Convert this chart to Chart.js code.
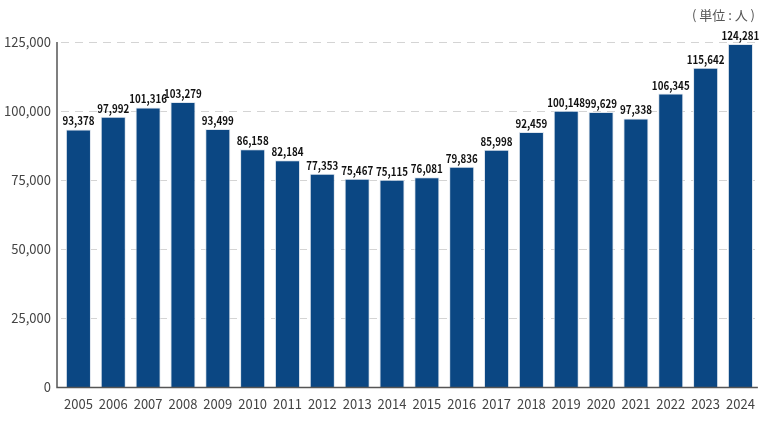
<!DOCTYPE html>
<html>
<head>
<meta charset="utf-8">
<script src="https://cdn.jsdelivr.net/npm/chart.js@4.4.1/dist/chart.umd.min.js"></script>
<style>
  html, body { margin: 0; padding: 0; background: #fff; }
  #wrap { position: relative; width: 764px; height: 429px; }
  #unit { position: absolute; right: 9px; top: 5px; font: 13px "Noto Sans CJK JP"; color: #555; white-space: pre; }
</style>
</head>
<body>
<div id="wrap">
  <canvas id="c" width="764" height="429"></canvas>
  <div id="unit">( 単位 : 人 )</div>
</div>
<script>
// ===== data =====
const years = ["2005","2006","2007","2008","2009","2010","2011","2012","2013","2014",
               "2015","2016","2017","2018","2019","2020","2021","2022","2023","2024"];
const people = [93378, 97992, 101316, 103279, 93499, 86158, 82184, 77353, 75467, 75115,
                76081, 79836, 85998, 92459, 100148, 99629, 97338, 106345, 115642, 124281];
const yTicks = [0, 25000, 50000, 75000, 100000, 125000];

const fmt = (v) => v.toLocaleString("en-US");

// axis lines + value labels above bars
const barLabels = {
  id: "barLabels",
  afterDatasetsDraw(chart) {
    const ctx = chart.ctx;
    const a = chart.chartArea;
    ctx.save();
    ctx.strokeStyle = "#555";
    ctx.lineWidth = 1.5;
    ctx.beginPath();
    ctx.moveTo(57, a.top);
    ctx.lineTo(57, a.bottom);
    ctx.lineTo(a.right, a.bottom);
    ctx.stroke();

    const meta = chart.getDatasetMeta(0);
    ctx.font = "bold 11.5px 'Noto Sans CJK JP'";
    ctx.fillStyle = "#111";
    ctx.textAlign = "center";
    ctx.textBaseline = "alphabetic";
    meta.data.forEach((bar, i) => {
      ctx.save();
      ctx.translate(bar.x, bar.y - 4);
      ctx.scale(0.85, 1);
      ctx.fillText(fmt(people[i]), 0, 0);
      ctx.restore();
    });
    ctx.restore();
  }
};

new Chart(document.getElementById("c"), {
  type: "bar",
  data: {
    labels: years,
    datasets: [{
      data: people,
      backgroundColor: "#0b4783",
      borderColor: "#dfe6ee",
      borderWidth: { top: 1, left: 1, right: 1, bottom: 0 },
      categoryPercentage: 1.0,
      barPercentage: 0.72,
    }],
  },
  options: {
    responsive: false,
    animation: false,
    layout: { padding: { top: 42, right: 5, bottom: 8, left: 0 } },
    plugins: { legend: { display: false }, tooltip: { enabled: false } },
    scales: {
      x: {
        grid: { display: false, drawTicks: false },
        border: { display: false },
        ticks: { color: "#444", font: { family: "Noto Sans CJK JP", size: 13 }, padding: 9, maxRotation: 0 },
      },
      y: {
        min: 0,
        max: 125000,
        afterBuildTicks(axis) { axis.ticks = yTicks.map((v) => ({ value: v })); },
        afterFit(axis) { axis.width = 61; },
        grid: { color: "#d4d4d4", drawTicks: false },
        border: { display: false, dash: [8, 6] },
        ticks: { color: "#444", font: { family: "Noto Sans CJK JP", size: 13 }, padding: 10, callback: (v) => fmt(v) },
      },
    },
  },
  plugins: [barLabels],
});
</script>
</body>
</html>
